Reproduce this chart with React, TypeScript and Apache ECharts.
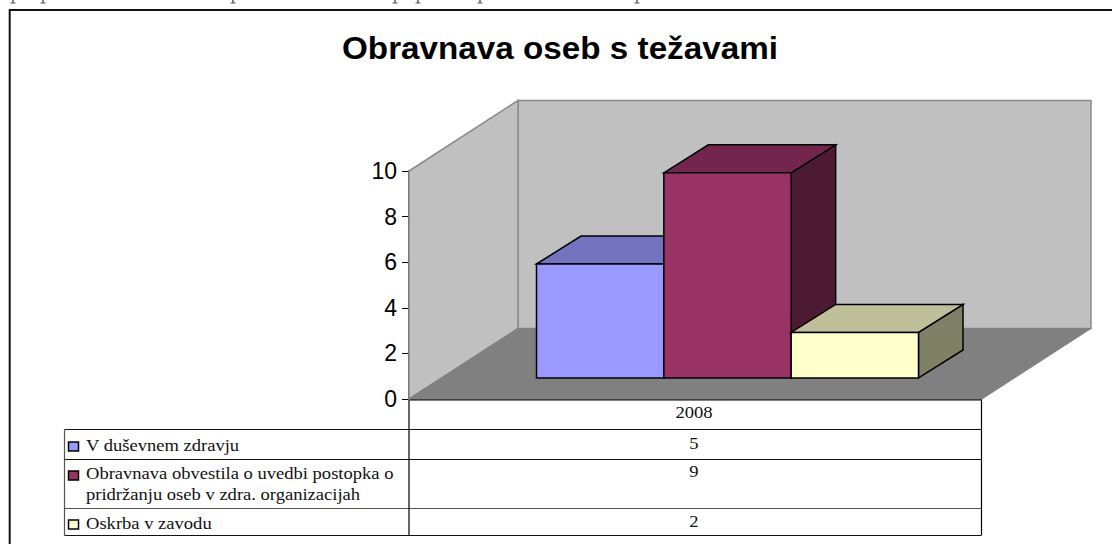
import React, { useEffect, useRef } from "react";
import * as echarts from "echarts";

const TITLE = "Obravnava oseb s težavami";
const CATEGORIES = ["2008"];
const SERIES_NAMES = ["V duševnem zdravju", "Obravnava obvestila o uvedbi postopka o", "Oskrba v zavodu"];
const SERIES_SECOND_LINES = ["", "pridržanju oseb v zdra. organizacijah", ""];
const SERIES_VALUES = [[5], [9], [2]];
const SERIES_FRONT = ["#9999ff", "#993366", "#ffffcc"];
const SERIES_TOP = ["#7373c0", "#73264d", "#bfbf99"];
const SERIES_SIDE = ["#4d4d80", "#4d1a33", "#808066"];
const Y_TICKS = [0, 2, 4, 6, 8, 10];
// illegible descender stubs of a line of body text cut off by the top of the picture
const CUT_OFF_STUB_X = [13, 43, 233, 395, 418, 480, 637];

// layout of the plot and of the pseudo-3D box
const W = 1112, H = 544;
const GRID = { left: 409, top: 171, width: 573, height: 228 };
const BOX_DX = 109, BOX_DY = 70.5;      // full depth of the floor
const BAR_SHIFT_DX = 32, BAR_SHIFT_DY = 21; // bars stand this far into the floor
const BAR_DX = 44.5, BAR_DY = 28;       // depth of a bar
const GAP = 1.5;                        // gap width in bar widths
const ROWS = [429.5, 459.5, 508.5, 535.5];
const TABLE_LEFT = 64.5;

const makeOption = () => {
  const poly = (points: number[][], fill: string, stroke: string, lineWidth: number) => ({
    type: "polygon",
    shape: { points },
    style: { fill, stroke, lineWidth, lineJoin: "miter" },
  });

  const valueY = [443.7, 472, 522];
  const labelY = [[446], [474, 495], [524]];
  const swatchY = [442, 471, 520];
  const textGraphics: any[] = [];
  const lineGraphics: any[] = [];
  const hLine = (x1: number, x2: number, y: number, stroke: string, lineWidth = 1) =>
    lineGraphics.push({ type: "line", shape: { x1, y1: y, x2, y2: y }, style: { stroke, lineWidth } });
  const vLine = (x: number, y1: number, y2: number, stroke: string, lineWidth = 1) =>
    lineGraphics.push({ type: "line", shape: { x1: x, y1, x2: x, y2 }, style: { stroke, lineWidth } });

  // chart frame: left and top only
  hLine(9, W, 10, "#111", 2);
  vLine(9.7, 9, H, "#111", 2);

  // stubs at the very top of the picture
  CUT_OFF_STUB_X.forEach((x) => {
    vLine(x, 0, 3, "#333", 1.2);
    hLine(x - 2.5, x + 2.5, 3, "#333", 0.8);
  });

  // data table
  ROWS.forEach((y, i) => hLine(TABLE_LEFT, 981, y, i === 2 ? "#555" : "#111", 1.2));
  hLine(409, 982, 399.5, "#000", 2);
  vLine(TABLE_LEFT, ROWS[0], ROWS[3], "#555", 1.2);
  vLine(409, 399, ROWS[3], "#000", 1.2);
  vLine(981.5, 399, ROWS[3], "#000", 1.2);

  const serif = "'Liberation Serif'";
  const tableText = (x: number, y: number, text: string, align: string) => ({
    type: "text",
    x,
    y,
    scaleX: 1.16,
    style: { text, x: 0, y: 0, font: `16px ${serif}`, fill: "#111", align, verticalAlign: "middle" },
  });
  textGraphics.push(tableText(694, 412.7, CATEGORIES[0], "center"));
  SERIES_NAMES.forEach((name, i) => {
    lineGraphics.push({
      type: "rect",
      shape: { x: 68.5, y: swatchY[i], width: 10, height: 9 },
      style: { fill: SERIES_FRONT[i], stroke: "#000", lineWidth: 1.5 },
    });
    textGraphics.push(tableText(86, labelY[i][0], name, "left"));
    if (SERIES_SECOND_LINES[i]) textGraphics.push(tableText(86, labelY[i][1], SERIES_SECOND_LINES[i], "left"));
    textGraphics.push(tableText(694, valueY[i], String(SERIES_VALUES[i][0]), "center"));
  });

  textGraphics.push({
    type: "text",
    x: 560,
    y: 48,
    scaleX: 1.09,
    style: {
      text: TITLE,
      x: 0,
      y: 0,
      font: "bold 30.5px 'Liberation Sans'",
      fill: "#000",
      align: "center",
      verticalAlign: "middle",
    },
  });

  const walls = {
    type: "custom",
    silent: true,
    z: 1,
    clip: false,
    data: [[0]],
    encode: { x: 0 },
    renderItem: (_: any, api: any) => {
      const lo = api.coord([0, 0]);
      const hi = api.coord([0, 10]);
      const band = api.size([1, 0])[0];
      const x0 = lo[0] - band / 2;
      const x1 = lo[0] + band / 2;
      const y0 = lo[1];
      const y1 = hi[1];
      const d = [BOX_DX, -BOX_DY];
      const wall = "#c0c0c0", edge = "#8a8a8a";
      return {
        type: "group",
        children: [
          poly([[x0 + d[0], y1 + d[1]], [x1 + d[0], y1 + d[1]], [x1 + d[0], y0 + d[1]], [x0 + d[0], y0 + d[1]]], wall, edge, 1.5),
          poly([[x0, y1], [x0 + d[0], y1 + d[1]], [x0 + d[0], y0 + d[1]], [x0, y0]], wall, edge, 1.5),
          poly([[x0, y0], [x0 + d[0], y0 + d[1]], [x1 + d[0], y0 + d[1]], [x1, y0]], "#808080", "#808080", 1),
        ],
      };
    },
  };

  const bars = SERIES_VALUES.map((vals, s) => ({
    type: "custom",
    name: SERIES_NAMES[s],
    z: 2 + s,
    clip: false,
    data: vals.map((v, i) => [i, v]),
    encode: { x: 0, y: 1 },
    renderItem: (_: any, api: any) => {
      const cat = api.value(0);
      const lo = api.coord([cat, 0]);
      const hi = api.coord([cat, api.value(1)]);
      const band = api.size([1, 0])[0];
      const bw = band / (SERIES_VALUES.length + GAP);
      const xa = lo[0] + BAR_SHIFT_DX - (bw * SERIES_VALUES.length) / 2 + s * bw;
      const xb = xa + bw;
      const yb = lo[1] - BAR_SHIFT_DY;
      const yt = hi[1] - BAR_SHIFT_DY;
      const stroke = "#000";
      return {
        type: "group",
        children: [
          poly([[xb, yt], [xb + BAR_DX, yt - BAR_DY], [xb + BAR_DX, yb - BAR_DY], [xb, yb]], SERIES_SIDE[s], stroke, 1.5),
          poly([[xa, yt], [xa + BAR_DX, yt - BAR_DY], [xb + BAR_DX, yt - BAR_DY], [xb, yt]], SERIES_TOP[s], stroke, 1.5),
          poly([[xa, yt], [xb, yt], [xb, yb], [xa, yb]], SERIES_FRONT[s], stroke, 1.5),
        ],
      };
    },
  }));

  return {
    animation: false,
    backgroundColor: "#fff",
    grid: { ...GRID },
    xAxis: {
      type: "category",
      data: CATEGORIES,
      axisLine: { show: false },
      axisTick: { show: false },
      axisLabel: { show: false },
    },
    yAxis: {
      type: "value",
      min: 0,
      max: 10,
      interval: 2,
      splitLine: { show: false },
      axisLine: { show: true, lineStyle: { color: "#000", width: 1.5 } },
      axisTick: { show: true, length: 7, lineStyle: { color: "#000", width: 1 } },
      axisLabel: {
        color: "#000",
        fontFamily: "'Liberation Sans'",
        fontSize: 23,
        margin: 12,
        customValues: Y_TICKS,
      },
    },
    series: [walls, ...bars],
    graphic: { elements: [...lineGraphics, ...textGraphics] },
  };
};

export default function App() {
  const ref = useRef<HTMLDivElement>(null);
  useEffect(() => {
    const chart = echarts.init(ref.current!, undefined, { renderer: "svg" });
    chart.setOption(makeOption() as any);
    return () => chart.dispose();
  }, []);
  return <div ref={ref} style={{ position: "fixed", left: 0, top: 0, width: W, height: H }} />;
}
